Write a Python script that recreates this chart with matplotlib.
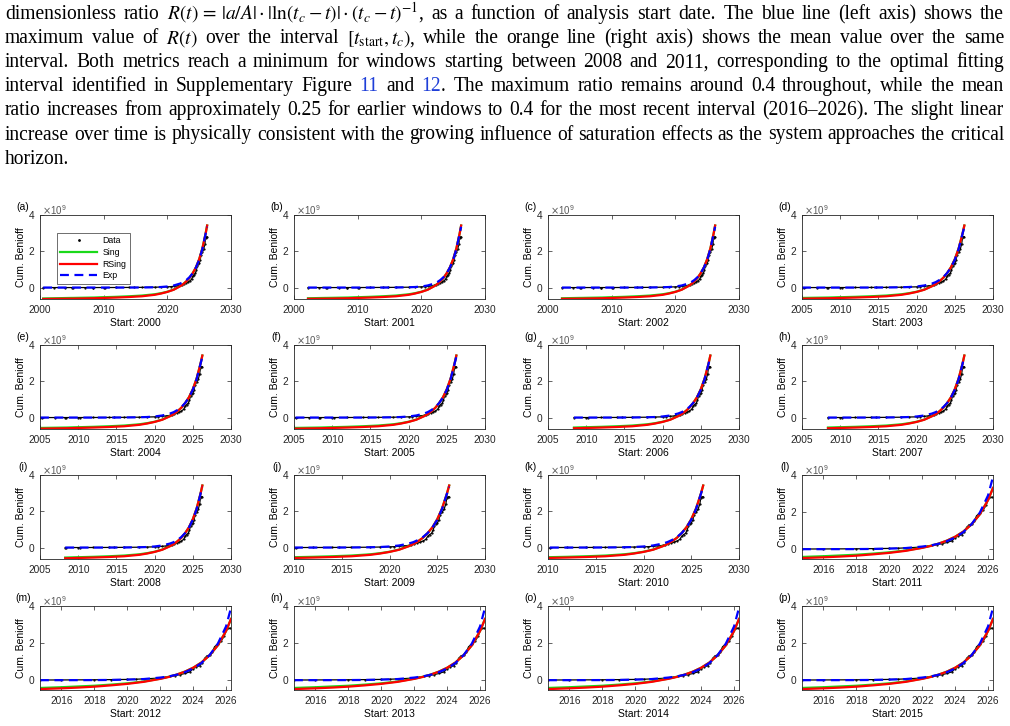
import numpy as np
import matplotlib
matplotlib.use("Agg")
import matplotlib.pyplot as plt
from matplotlib.lines import Line2D

plt.rcParams["font.family"] = ["Liberation Sans", "DejaVu Sans"]
plt.rcParams["mathtext.fontset"] = "stix"

# ---- panels ----
panel_letters = list("abcdefghijklmnop")
start_years = list(range(2000, 2016))
first_obs = [2000.5, 2002.2, 2002.2, 2005.0, 2005.0, 2005.2, 2008.4, 2008.4,
             2008.3, 2010.0, 2010.2, 2014.7, 2014.7, 2014.7, 2014.7, 2014.7]
x_limits = [(2000, 2030)] * 3 + [(2005, 2030)] * 6 + [(2010, 2030)] * 2 + [(2014.7, 2026.3)] * 5
x_ticks = ([[2000, 2010, 2020, 2030]] * 3
           + [[2005, 2010, 2015, 2020, 2025, 2030]] * 6
           + [[2010, 2015, 2020, 2025, 2030]] * 2
           + [[2016, 2018, 2020, 2022, 2024, 2026]] * 5)
fit_group = ["A"] * 11 + ["B"] * 5
y_bottom = {"A": -0.63, "B": -0.53}

# ---- observed cumulative Benioff strain (x 1e9) ----
obs_t = [2000.5, 2002.2, 2004, 2005.0, 2005.2, 2007, 2008.3, 2008.4, 2010.0, 2010.2,
         2012, 2014, 2014.7, 2016, 2018, 2019, 2020, 2020.5, 2021, 2021.5,
         2022, 2022.3, 2022.6, 2022.9, 2023.2, 2023.5, 2023.8, 2024.0, 2024.2, 2024.4,
         2024.55, 2024.7, 2024.85, 2025.0, 2025.15, 2025.3, 2025.5, 2025.7, 2025.9, 2026.0,
         2026.1, 2026.25]
obs_b = [0, 0, 0, 0, 0, 0.001, 0.001, 0.001, 0.002, 0.002,
         0.004, 0.007, 0.008, 0.012, 0.02, 0.03, 0.04, 0.05, 0.07, 0.09,
         0.12, 0.16, 0.2, 0.25, 0.3, 0.36, 0.45, 0.62, 0.72, 0.78,
         0.95, 1.18, 1.32, 1.35, 1.5, 1.8, 1.95, 2.1, 2.4, 2.75,
         2.8, 2.8]

# ---- fitted curves, windows starting 2000-2010 (x 1e9) ----
fit_t_a = [2000.5, 2002.2, 2005.0, 2005.2, 2008.3, 2008.4, 2010.0, 2010.2,
           2012, 2014, 2016, 2018, 2019, 2020, 2021, 2022, 2022.5, 2023, 2023.5,
           2024, 2024.5, 2025, 2025.5, 2026, 2026.25]
sing_a = [-0.60, -0.59, -0.57, -0.57, -0.55, -0.55, -0.53, -0.53,
          -0.51, -0.48, -0.44, -0.37, -0.31, -0.23, -0.11, 0.08, 0.20, 0.35, 0.54,
          0.80, 1.12, 1.56, 2.15, 2.95, 3.42]
rsing_a = [-0.63, -0.62, -0.61, -0.61, -0.59, -0.59, -0.57, -0.57,
           -0.55, -0.52, -0.48, -0.40, -0.33, -0.24, -0.12, 0.07, 0.19, 0.35, 0.54,
           0.80, 1.12, 1.56, 2.15, 2.95, 3.42]
exp_a = [0, 0, 0, 0, 0, 0, 0, 0,
         0.0, 0.001, 0.004, 0.016, 0.03, 0.06, 0.115, 0.22, 0.30, 0.42, 0.58,
         0.80, 1.11, 1.53, 2.12, 2.94, 3.35]

# ---- fitted curves, windows starting 2011-2015 (x 1e9) ----
fit_t_b = [2014.7, 2016, 2017, 2018, 2019, 2020, 2021, 2022, 2022.5, 2023, 2023.5,
           2024, 2024.5, 2025, 2025.5, 2026, 2026.3]
sing_b = [-0.42, -0.38, -0.34, -0.30, -0.24, -0.17, -0.07, 0.08, 0.18, 0.30, 0.46,
          0.67, 0.95, 1.34, 1.88, 2.65, 3.30]
rsing_b = [-0.48, -0.44, -0.40, -0.35, -0.28, -0.20, -0.09, 0.07, 0.17, 0.30, 0.46,
           0.67, 0.95, 1.34, 1.88, 2.65, 3.30]
exp_b = [0.0, 0.001, 0.002, 0.005, 0.012, 0.03, 0.06, 0.14, 0.20, 0.29, 0.43,
         0.63, 0.92, 1.35, 1.97, 2.90, 3.90]

fits = {"A": (fit_t_a, sing_a, rsing_a, exp_a), "B": (fit_t_b, sing_b, rsing_b, exp_b)}

# ---- caption text, one list per printed line ----
BLUE = "#1f3fd8"
caption_lines = [
    ["dimensionless", "ratio", r"$R(t)\,=\,|a/A|\cdot|\ln(t_c-t)|\cdot(t_c-t)^{-1}$,", "as", "a",
     "function", "of", "analysis", "start", "date.", "The", "blue", "line", "(left", "axis)",
     "shows", "the"],
    ["maximum", "value", "of", r"$R(t)$", "over", "the", "interval",
     r"$[t_{\mathrm{start}},t_c)$,", "while", "the", "orange", "line", "(right", "axis)",
     "shows", "the", "mean", "value", "over", "the", "same"],
    ["interval.", "Both", "metrics", "reach", "a", "minimum", "for", "windows", "starting",
     "between", "2008", "and", "2011,", "corresponding", "to", "the", "optimal", "fitting"],
    ["interval", "identified", "in", "Supplementary", "Figure", [("11", BLUE)], "and",
     [("12", BLUE), (".", "black")], "The", "maximum", "ratio", "remains", "around", "0.4",
     "throughout,", "while", "the", "mean"],
    ["ratio", "increases", "from", "approximately", "0.25", "for", "earlier", "windows", "to",
     "0.4", "for", "the", "most", "recent", "interval", "(2016\u20132026).", "The", "slight",
     "linear"],
    ["increase", "over", "time", "is", "physically", "consistent", "with", "the", "growing",
     "influence", "of", "saturation", "effects", "as", "the", "system", "approaches", "the",
     "critical"],
    ["horizon."],
]
SERIF = ["Liberation Serif", "DejaVu Serif"]


def measure_words(fig, lines, size):
    renderer = fig.canvas.get_renderer()
    out = []
    for words in lines:
        row = []
        for w in words:
            pieces = [(w, "black")] if isinstance(w, str) else w
            widths = []
            for s, c in pieces:
                t = fig.text(0, 0, s, fontsize=size, family=SERIF)
                widths.append(t.get_window_extent(renderer).width)
                t.remove()
            row.append(widths)
        out.append(row)
    t1 = fig.text(0, 0, "a a", fontsize=size, family=SERIF)
    t2 = fig.text(0, 0, "aa", fontsize=size, family=SERIF)
    space_w = t1.get_window_extent(renderer).width - t2.get_window_extent(renderer).width
    t1.remove()
    t2.remove()
    return out, space_w


def draw_caption(fig, lines, left_px, right_px, base_px, step_px):
    W, H = fig.bbox.width, fig.bbox.height
    # find the font size at which the tightest justified line fits with normal spaces
    ref_size = 10.0
    widths, space_w = measure_words(fig, lines, ref_size)
    natural = [sum(sum(w) for w in row) + (len(row) - 1) * space_w
               for row in widths[:-1]]
    size = ref_size * (right_px - left_px) / max(natural) * 0.995
    widths, space_w = measure_words(fig, lines, size)
    for i, words in enumerate(lines):
        y = 1 - (base_px + i * step_px) / H
        total = sum(sum(w) for w in widths[i])
        if i == len(lines) - 1 or len(words) < 2:
            gap = space_w
        else:
            gap = (right_px - left_px - total) / (len(words) - 1)
        x = left_px
        for w, wd in zip(words, widths[i]):
            pieces = [(w, "black")] if isinstance(w, str) else w
            for (s, c), pw in zip(pieces, wd):
                fig.text(x / W, y, s, color=c, fontsize=size, family=SERIF, va="baseline")
                x += pw
            x += gap


fig = plt.figure(figsize=(10.1, 7.26), dpi=100)
W, H = 1010, 726
draw_caption(fig, caption_lines, 5, 1004, 19, 24.1)

col_left = [40, 294, 548, 802]
row_top = [215, 345, 475, 606]
ax_w, ax_h = 191, 84
dark = "0.15"
green = (0.1, 0.85, 0.1)

for k in range(16):
    r, c = divmod(k, 4)
    ax = fig.add_axes([col_left[c] / W, 1 - (row_top[r] + ax_h) / H, ax_w / W, ax_h / H])
    t_fit, s_fit, rs_fit, e_fit = [np.array(v, dtype=float) for v in fits[fit_group[k]]]
    t_obs, b_obs = np.array(obs_t), np.array(obs_b)

    m_obs = t_obs >= first_obs[k] - 1e-6
    m_fit = t_fit >= first_obs[k] - 1e-6

    ax.plot(t_obs[m_obs], b_obs[m_obs] * 1e9, "k-", lw=0.9)
    ax.plot(t_obs[m_obs], b_obs[m_obs] * 1e9, "k.", ms=1.2)
    ax.plot(t_fit[m_fit], s_fit[m_fit] * 1e9, color=green, lw=1.6)
    ax.plot(t_fit[m_fit], rs_fit[m_fit] * 1e9, color="red", lw=1.6)
    ax.plot(t_fit[m_fit], e_fit[m_fit] * 1e9, color="blue", ls=(0, (4, 2.5)), lw=1.6)

    ax.set_xlim(*x_limits[k])
    ax.set_xticks(x_ticks[k])
    ax.set_ylim(y_bottom[fit_group[k]] * 1e9, 4e9)
    ax.set_yticks([0, 2e9, 4e9])
    ax.set_yticklabels(["0", "2", "4"])
    ax.tick_params(direction="in", top=True, right=True, length=3, width=0.5,
                   labelsize=7.3, colors=dark, pad=4)
    for s in ax.spines.values():
        s.set_linewidth(0.6)
        s.set_color(dark)
    ax.set_xlabel(f"Start: {start_years[k]}", fontsize=7.5, labelpad=2.5, color="black")
    ax.set_ylabel("Cum. Benioff", fontsize=7.5, labelpad=2, color="black")
    ax.text(-0.09, 1.095, f"({panel_letters[k]})", transform=ax.transAxes,
            fontsize=7.5, ha="center", va="center")
    ax.text(0.01, 1.055, r"$\times\mathdefault{10^{9}}$", transform=ax.transAxes,
            fontsize=7, ha="left", va="center", color="0.35", math_fontfamily="dejavusans")

    if k == 0:
        handles = [Line2D([], [], color="k", marker=".", ls="none", ms=2),
                   Line2D([], [], color=green, lw=1.6),
                   Line2D([], [], color="red", lw=1.6),
                   Line2D([], [], color="blue", ls=(0, (4, 2.5)), lw=1.6)]
        leg = ax.legend(handles, ["Data", "Sing", "RSing", "Exp"], loc="upper left",
                        bbox_to_anchor=(0.089, 0.786), borderaxespad=0, fontsize=6.3,
                        fancybox=False, handlelength=4.2, handletextpad=0.6,
                        labelspacing=0.3, borderpad=0.4)
        leg.get_frame().set_edgecolor("black")
        leg.get_frame().set_linewidth(0.5)

fig.savefig("out.png", dpi=100)
